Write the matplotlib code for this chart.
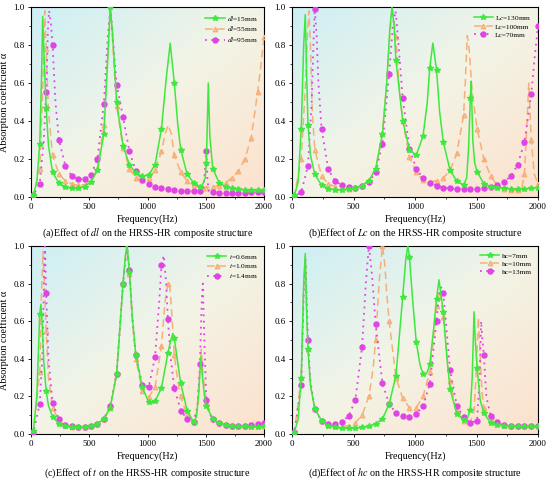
import numpy as np
import matplotlib
matplotlib.use("Agg")
import matplotlib.pyplot as plt
from matplotlib.lines import Line2D
from matplotlib.colors import LinearSegmentedColormap
from matplotlib.ticker import MultipleLocator, FormatStrFormatter

plt.rcParams['font.family'] = ['Liberation Serif', 'DejaVu Serif']
plt.rcParams['mathtext.fontset'] = 'stix'

# ---- (a) effect of dl ----
dl15_f = [0, 20, 50, 75, 90, 100, 110, 130, 150, 185, 240, 295, 350, 405, 460, 515, 570, 625, 655, 680,
          700, 735, 790, 845, 900, 955, 1010, 1065, 1120, 1160, 1195, 1230, 1260, 1285, 1340, 1395, 1450, 1465, 1495, 1505,
          1522, 1535, 1560, 1615, 1670, 1725, 1780, 1835, 1890, 1945, 2000]
dl15_a = [0, 0.01, 0.08, 0.28, 0.62, 0.95, 0.78, 0.47, 0.27, 0.13, 0.072, 0.052, 0.045, 0.046, 0.055, 0.08, 0.14, 0.33, 0.68, 1.0,
          0.86, 0.5, 0.27, 0.17, 0.125, 0.11, 0.115, 0.17, 0.36, 0.62, 0.81, 0.6, 0.38, 0.25, 0.12, 0.075, 0.055, 0.054, 0.1, 0.18,
          0.6, 0.32, 0.15, 0.075, 0.055, 0.045, 0.04, 0.038, 0.036, 0.036, 0.037]
dl55_f = [0, 20, 75, 100, 110, 118, 130, 150, 185, 240, 295, 350, 405, 460, 515, 570, 625, 660, 685, 710,
          735, 790, 845, 900, 955, 1010, 1065, 1120, 1150, 1178, 1205, 1230, 1285, 1340, 1395, 1450, 1505, 1560, 1615, 1670,
          1725, 1780, 1835, 1890, 1945, 1975, 2000]
dl55_a = [0, 0.01, 0.15, 0.55, 0.8, 0.98, 0.78, 0.45, 0.22, 0.12, 0.085, 0.068, 0.062, 0.065, 0.085, 0.15, 0.38, 0.75, 0.98, 0.72,
          0.48, 0.26, 0.15, 0.1, 0.09, 0.1, 0.14, 0.24, 0.33, 0.38, 0.33, 0.22, 0.13, 0.085, 0.062, 0.052, 0.05, 0.052, 0.06, 0.075,
          0.1, 0.135, 0.2, 0.31, 0.55, 0.7, 0.84]
dl95_f = [0, 20, 75, 110, 130, 145, 155, 170, 185, 210, 240, 295, 350, 405, 460, 515, 570, 625, 660, 682,
          705, 735, 790, 845, 900, 955, 1010, 1065, 1120, 1175, 1230, 1285, 1340, 1395, 1450, 1480, 1495, 1505, 1515, 1530,
          1560, 1615, 1670, 1725, 1780, 1835, 1890, 1945, 2000]
dl95_a = [0, 0.01, 0.07, 0.3, 0.55, 0.88, 0.98, 0.92, 0.8, 0.5, 0.3, 0.165, 0.11, 0.095, 0.095, 0.115, 0.2, 0.49, 0.85, 1.0,
          0.82, 0.59, 0.42, 0.24, 0.135, 0.09, 0.07, 0.055, 0.045, 0.04, 0.036, 0.033, 0.031, 0.03, 0.03, 0.045, 0.15, 0.24, 0.08, 0.03,
          0.025, 0.022, 0.022, 0.022, 0.023, 0.023, 0.024, 0.025, 0.026]

# ---- (b) effect of Lc ----
lc130_f = [0, 20, 50, 75, 95, 108, 120, 130, 150, 185, 240, 295, 350, 405, 460, 515, 570, 625, 680, 735,
           770, 795, 813, 830, 845, 900, 955, 1010, 1065, 1100, 1120, 1145, 1175, 1200, 1230, 1285, 1340, 1395, 1420, 1435,
           1450, 1457, 1470, 1485, 1505, 1560, 1615, 1670, 1725, 1780, 1835, 1890, 1945, 2000]
lc130_a = [0, 0.01, 0.08, 0.36, 0.8, 0.96, 0.62, 0.38, 0.22, 0.12, 0.062, 0.044, 0.038, 0.036, 0.04, 0.048, 0.06, 0.085, 0.15, 0.33,
           0.6, 0.88, 1.0, 0.9, 0.72, 0.4, 0.25, 0.22, 0.32, 0.5, 0.68, 0.81, 0.67, 0.45, 0.29, 0.14, 0.084, 0.063, 0.1, 0.25,
           0.52, 0.61, 0.3, 0.18, 0.133, 0.07, 0.055, 0.05, 0.045, 0.043, 0.042, 0.043, 0.045, 0.05]
lc100_f = [0, 20, 75, 110, 125, 138, 150, 165, 185, 240, 295, 350, 405, 460, 515, 570, 625, 680, 735, 770,
           795, 815, 835, 845, 870, 900, 955, 1010, 1065, 1120, 1175, 1230, 1285, 1340, 1395, 1410, 1425, 1440, 1465, 1505,
           1560, 1615, 1670, 1725, 1780, 1835, 1870, 1890, 1910, 1925, 1945, 1970, 2000]
lc100_a = [0, 0.01, 0.2, 0.6, 0.85, 0.98, 0.8, 0.45, 0.25, 0.11, 0.07, 0.055, 0.045, 0.04, 0.045, 0.06, 0.09, 0.15, 0.33, 0.6,
           0.85, 1.0, 0.9, 0.84, 0.6, 0.4, 0.21, 0.13, 0.09, 0.08, 0.085, 0.1, 0.14, 0.23, 0.43, 0.62, 0.85, 0.78, 0.55, 0.36,
           0.2, 0.11, 0.06, 0.042, 0.036, 0.035, 0.05, 0.12, 0.38, 0.6, 0.3, 0.12, 0.07]
lc70_f = [0, 20, 75, 130, 160, 175, 185, 200, 215, 240, 295, 350, 405, 460, 515, 570, 625, 680, 735, 790,
          820, 842, 860, 900, 955, 1010, 1065, 1120, 1175, 1230, 1285, 1340, 1395, 1450, 1505, 1560, 1615, 1670, 1725, 1780,
          1835, 1890, 1945, 1975, 2000]
lc70_a = [0, 0.005, 0.025, 0.165, 0.5, 0.82, 0.99, 0.85, 0.6, 0.36, 0.145, 0.085, 0.062, 0.053, 0.05, 0.06, 0.08, 0.13, 0.28, 0.65,
          0.9, 0.98, 0.85, 0.52, 0.255, 0.15, 0.1, 0.075, 0.06, 0.05, 0.045, 0.043, 0.04, 0.04, 0.042, 0.045, 0.055, 0.065, 0.08, 0.11,
          0.17, 0.29, 0.54, 0.75, 0.9]

# ---- (c) effect of t ----
t06_f = [0, 20, 50, 75, 85, 95, 110, 130, 150, 185, 240, 295, 350, 405, 460, 515, 570, 625, 680, 735,
         790, 810, 826, 845, 870, 900, 955, 1010, 1040, 1065, 1120, 1175, 1200, 1218, 1230, 1250, 1285, 1340, 1395, 1420,
         1440, 1457, 1472, 1490, 1505, 1560, 1615, 1670, 1725, 1780, 1835, 1890, 1945, 2000]
t06_a = [0, 0.015, 0.2, 0.64, 0.69, 0.6, 0.38, 0.23, 0.15, 0.093, 0.053, 0.042, 0.036, 0.035, 0.037, 0.042, 0.055, 0.08, 0.14, 0.32,
         0.8, 0.95, 1.0, 0.86, 0.62, 0.42, 0.25, 0.17, 0.165, 0.175, 0.245, 0.43, 0.5, 0.535, 0.51, 0.42, 0.27, 0.125, 0.065, 0.09,
         0.22, 0.41, 0.3, 0.2, 0.15, 0.08, 0.058, 0.05, 0.045, 0.042, 0.04, 0.038, 0.037, 0.04]
t10_f = [0, 20, 75, 90, 103, 115, 130, 150, 185, 240, 295, 350, 405, 460, 515, 570, 625, 680, 735, 790,
         820, 845, 870, 900, 955, 1010, 1065, 1120, 1150, 1175, 1187, 1200, 1230, 1260, 1285, 1340, 1395, 1425, 1445, 1462,
         1478, 1505, 1560, 1615, 1670, 1725, 1780, 1835, 1890, 1945, 2000]
t10_a = [0, 0.012, 0.33, 0.75, 0.97, 0.8, 0.55, 0.3, 0.14, 0.07, 0.048, 0.038, 0.036, 0.037, 0.042, 0.055, 0.08, 0.14, 0.32, 0.8,
         1.0, 0.85, 0.6, 0.4, 0.23, 0.195, 0.25, 0.47, 0.7, 0.8, 0.81, 0.72, 0.42, 0.28, 0.2, 0.1, 0.065, 0.12, 0.3, 0.45,
         0.3, 0.17, 0.08, 0.058, 0.05, 0.045, 0.042, 0.04, 0.04, 0.04, 0.045]
t14_f = [0, 20, 75, 100, 112, 120, 130, 150, 185, 240, 295, 350, 405, 460, 515, 570, 625, 680, 735, 790,
         825, 845, 870, 900, 955, 1010, 1065, 1100, 1120, 1140, 1160, 1175, 1200, 1230, 1285, 1340, 1395, 1430, 1450, 1465,
         1475, 1490, 1505, 1530, 1560, 1615, 1670, 1725, 1780, 1835, 1890, 1945, 2000]
t14_a = [0, 0.008, 0.16, 0.45, 0.85, 1.0, 0.75, 0.4, 0.167, 0.078, 0.05, 0.04, 0.036, 0.037, 0.042, 0.055, 0.08, 0.15, 0.32, 0.8,
         1.0, 0.87, 0.62, 0.42, 0.26, 0.25, 0.41, 0.7, 0.9, 0.95, 0.8, 0.61, 0.4, 0.245, 0.125, 0.08, 0.063, 0.15, 0.37, 0.7,
         0.8, 0.45, 0.18, 0.11, 0.08, 0.06, 0.05, 0.045, 0.045, 0.045, 0.048, 0.052, 0.06]

# ---- (d) effect of hc ----
hc7_f = [0, 20, 50, 75, 95, 108, 120, 130, 150, 185, 240, 295, 350, 405, 460, 515, 570, 625, 680, 735,
         790, 845, 870, 900, 925, 942, 955, 980, 1010, 1040, 1065, 1080, 1100, 1120, 1150, 1175, 1195, 1230, 1260, 1285,
         1340, 1395, 1420, 1450, 1465, 1480, 1490, 1505, 1530, 1560, 1615, 1670, 1725, 1780, 1835, 1890, 1945, 2000]
hc7_a = [0, 0.01, 0.08, 0.3, 0.8, 0.96, 0.62, 0.45, 0.26, 0.135, 0.07, 0.045, 0.035, 0.03, 0.03, 0.03, 0.035, 0.04, 0.055, 0.08,
         0.16, 0.31, 0.5, 0.73, 0.93, 1.0, 0.94, 0.72, 0.49, 0.37, 0.32, 0.315, 0.33, 0.37, 0.55, 0.72, 0.82, 0.65, 0.4, 0.24,
         0.107, 0.075, 0.072, 0.13, 0.3, 0.65, 0.5, 0.35, 0.18, 0.11, 0.06, 0.05, 0.045, 0.042, 0.04, 0.04, 0.04, 0.04]
hc10_f = [0, 20, 75, 95, 108, 120, 130, 150, 185, 240, 295, 350, 405, 460, 515, 570, 625, 660, 680, 710,
          735, 755, 770, 790, 845, 900, 955, 1010, 1065, 1120, 1150, 1175, 1195, 1210, 1230, 1260, 1285, 1340, 1395, 1450,
          1480, 1500, 1515, 1530, 1545, 1560, 1615, 1670, 1725, 1780, 1835, 1890, 1945, 2000]
hc10_a = [0, 0.01, 0.3, 0.78, 0.94, 0.65, 0.45, 0.26, 0.135, 0.07, 0.05, 0.042, 0.04, 0.045, 0.06, 0.1, 0.2, 0.35, 0.5, 0.82,
          1.0, 0.9, 0.75, 0.6, 0.3, 0.19, 0.14, 0.14, 0.2, 0.33, 0.5, 0.68, 0.76, 0.72, 0.62, 0.42, 0.28, 0.12, 0.07, 0.065,
          0.12, 0.36, 0.62, 0.42, 0.22, 0.14, 0.08, 0.06, 0.05, 0.045, 0.042, 0.04, 0.04, 0.04]
hc13_f = [0, 20, 75, 95, 110, 120, 130, 150, 185, 240, 295, 350, 405, 460, 515, 570, 600, 625, 650, 680,
          735, 790, 845, 900, 955, 1010, 1065, 1120, 1175, 1195, 1212, 1230, 1285, 1340, 1395, 1450, 1505, 1525, 1538, 1548,
          1560, 1580, 1615, 1670, 1725, 1780, 1835, 1890, 1945, 2000]
hc13_a = [0, 0.01, 0.26, 0.75, 0.93, 0.7, 0.5, 0.28, 0.135, 0.07, 0.053, 0.053, 0.065, 0.095, 0.18, 0.465, 0.8, 1.0, 0.85, 0.585,
          0.27, 0.16, 0.112, 0.095, 0.09, 0.107, 0.147, 0.267, 0.6, 0.74, 0.78, 0.75, 0.34, 0.15, 0.09, 0.06, 0.07, 0.3, 0.6, 0.5,
          0.42, 0.2, 0.095, 0.065, 0.05, 0.043, 0.04, 0.04, 0.04, 0.04]

labels_a = [r'$\mathit{dl}$=15mm', r'$\mathit{dl}$=55mm', r'$\mathit{dl}$=95mm']
labels_b = [r'L$\mathit{c}$=130mm', r'Lc=100mm', r'Lc=70mm']
labels_c = [r'$\mathit{t}$=0.6mm', r'$\mathit{t}$=1.0mm', r'$\mathit{t}$=1.4mm']
labels_d = ['hc=7mm', 'hc=10mm', 'hc=13mm']

captions = [r'(a)Effect of $\mathit{dl}$ on the HRSS-HR composite structure',
            r'(b)Effect of $\mathit{Lc}$ on the HRSS-HR composite structure',
            r'(c)Effect of $\mathit{t}$ on the HRSS-HR composite structure',
            r'(d)Effect of $\mathit{hc}$ on the HRSS-HR composite structure']

panels = [
    ([(dl15_f, dl15_a), (dl55_f, dl55_a), (dl95_f, dl95_a)], labels_a),
    ([(lc130_f, lc130_a), (lc100_f, lc100_a), (lc70_f, lc70_a)], labels_b),
    ([(t06_f, t06_a), (t10_f, t10_a), (t14_f, t14_a)], labels_c),
    ([(hc7_f, hc7_a), (hc10_f, hc10_a), (hc13_f, hc13_a)], labels_d),
]

GREEN = '#3ee83e'
ORANGE = '#f5b07a'
MAGENTA = '#e044e6'
styles = [
    dict(color=GREEN, ls='-', lw=1.1, marker='*', ms=3.8, mfc=GREEN, mec=GREEN, zorder=5),
    dict(color=ORANGE, ls=(0, (5, 3)), lw=1.1, marker='^', ms=3.2, mfc=(0.96, 0.69, 0.48, 0.6), mec=ORANGE, zorder=3),
    dict(color=MAGENTA, ls=(0, (1, 2.5)), lw=1.3, marker='o', ms=3.6, mfc=MAGENTA, mec=MAGENTA, zorder=4),
]
marker_grid = np.arange(20, 2001, 55)

bg = LinearSegmentedColormap.from_list('bg', ['#cdeff5', '#f3f4e6', '#fde1cd'])
gx, gy = np.meshgrid(np.linspace(0, 1, 200), np.linspace(0, 1, 200))
grad = (gx + (1 - gy)) / 2

fig = plt.figure(figsize=(5.5, 4.8), dpi=100)
W, H = 550.0, 480.0
boxes = [(31, 7, 264, 197), (292, 7, 538, 197), (31, 246, 264, 434), (292, 246, 538, 434)]
cap_y = [233, 233, 473, 473]

for i, ((curves, labels), (x0, y0, x1, y1)) in enumerate(zip(panels, boxes)):
    ax = fig.add_axes([x0 / W, 1 - y1 / H, (x1 - x0) / W, (y1 - y0) / H])
    ax.imshow(grad, cmap=bg, extent=[0, 1, 0, 1], transform=ax.transAxes,
              aspect='auto', origin='lower', zorder=0)
    handles = []
    for (f, a), st, lab in zip(curves, styles, labels):
        f = np.array(f)
        a = np.array(a)
        ax.plot(f, a, markevery=list(np.isin(f, marker_grid)), **st)
        handles.append(Line2D([0], [0], label=lab, **{k: v for k, v in st.items() if k != 'zorder'}))
    ax.set_xlim(0, 2000)
    ax.set_ylim(0, 1.0)
    ax.xaxis.set_major_locator(MultipleLocator(500))
    ax.xaxis.set_minor_locator(MultipleLocator(250))
    ax.yaxis.set_major_locator(MultipleLocator(0.2))
    ax.yaxis.set_minor_locator(MultipleLocator(0.1))
    ax.yaxis.set_major_formatter(FormatStrFormatter('%.1f'))
    ax.tick_params(which='major', direction='out', length=2.5, width=0.6, labelsize=6.5, pad=2)
    ax.tick_params(which='minor', direction='out', length=1.5, width=0.5)
    for sp in ax.spines.values():
        sp.set_linewidth(0.8)
    ax.set_xlabel('Frequency(Hz)', fontsize=7.3, labelpad=2)
    if i % 2 == 0:
        ax.set_ylabel('Absorption coefficient α', fontsize=7.3, labelpad=3)
    ax.legend(handles=handles, loc='upper right', frameon=False, fontsize=5.3,
              handlelength=2.6, handletextpad=0.3, labelspacing=0.25, borderaxespad=0.5)
    fig.text((x0 + x1) / 2 / W, 1 - cap_y[i] / H, captions[i], ha='center', va='center', fontsize=7.2)

fig.savefig('out.png', dpi=100)
